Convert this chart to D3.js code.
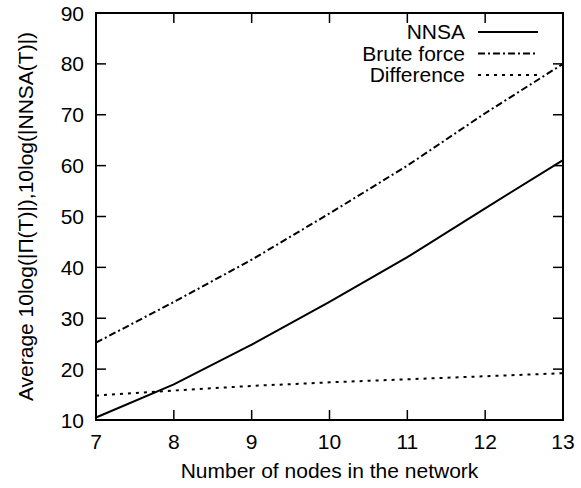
<!DOCTYPE html>
<html>
<head>
<meta charset="utf-8">
<script src="https://cdn.jsdelivr.net/npm/d3@7"></script>
<style>
  html, body { margin: 0; padding: 0; background: #fff; }
  svg text { font-family: "Liberation Sans", Arial, Helvetica, sans-serif; fill: #000; }
</style>
</head>
<body>
<svg id="chart" width="581" height="488"></svg>
<script>
// Network sizes (number of nodes)
const nodes = [7, 8, 9, 10, 11, 12, 13];
// Average 10log(|NNSA(T)|)
const nnsa = [10.5, 17.0, 24.8, 33.2, 42.0, 51.6, 61.1];
// Average 10log(|Π(T)|) from brute force enumeration
const bruteForce = [25.2, 33.2, 41.5, 50.6, 60.0, 70.3, 80.0];
// Gap between the two
const difference = [14.8, 15.8, 16.7, 17.4, 18.0, 18.6, 19.2];

const xTicks = [7, 8, 9, 10, 11, 12, 13];
const yTicks = [10, 20, 30, 40, 50, 60, 70, 80, 90];

const seriesNames = ["NNSA", "Brute force", "Difference"];
const seriesData = [nnsa, bruteForce, difference];
const seriesDash = [null, "7,3,2,3", "3,5"];

const svg = d3.select("#chart");
const plot = { left: 96, right: 563, top: 13, bottom: 420 };
const fontSize = 21;

const x = d3.scaleLinear().domain([7, 13]).range([plot.left, plot.right]);
const y = d3.scaleLinear().domain([10, 90]).range([plot.bottom, plot.top]);

// inward ticks on all four sides
const tickLen = 10;
const axes = svg.append("g").attr("stroke", "#000").attr("stroke-width", 1.5);
xTicks.slice(1, -1).forEach(t => {
  axes.append("line").attr("x1", x(t)).attr("x2", x(t)).attr("y1", plot.bottom).attr("y2", plot.bottom - tickLen);
  axes.append("line").attr("x1", x(t)).attr("x2", x(t)).attr("y1", plot.top).attr("y2", plot.top + tickLen);
});
yTicks.slice(1, -1).forEach(t => {
  axes.append("line").attr("x1", plot.left).attr("x2", plot.left + tickLen).attr("y1", y(t)).attr("y2", y(t));
  axes.append("line").attr("x1", plot.right).attr("x2", plot.right - tickLen).attr("y1", y(t)).attr("y2", y(t));
});

// tick labels
svg.append("g").selectAll("text").data(xTicks).join("text")
  .attr("x", d => x(d)).attr("y", 449)
  .attr("text-anchor", "middle").attr("font-size", fontSize)
  .text(d => d);
svg.append("g").selectAll("text").data(yTicks).join("text")
  .attr("x", 84).attr("y", d => y(d)).attr("dy", "0.36em")
  .attr("text-anchor", "end").attr("font-size", fontSize)
  .text(d => d);

// axis titles
svg.append("text")
  .attr("x", (plot.left + plot.right) / 2).attr("y", 478)
  .attr("text-anchor", "middle").attr("font-size", fontSize)
  .text("Number of nodes in the network");
svg.append("text")
  .attr("transform", `translate(33,${(plot.top + plot.bottom) / 2}) rotate(-90)`)
  .attr("text-anchor", "middle").attr("font-size", fontSize)
  .text("Average 10log(|Π(T)|),10log(|NNSA(T)|)");

// series lines
const line = d3.line().x((d, i) => x(nodes[i])).y(d => y(d));
seriesData.forEach((vals, i) => {
  svg.append("path")
    .attr("d", line(vals))
    .attr("fill", "none").attr("stroke", "#000").attr("stroke-width", 2)
    .attr("stroke-dasharray", seriesDash[i]);
});

// legend
const legendY = [32, 53.5, 75];
seriesNames.forEach((name, i) => {
  svg.append("text")
    .attr("x", 465).attr("y", legendY[i]).attr("dy", "0.35em")
    .attr("text-anchor", "end").attr("font-size", fontSize)
    .text(name);
  svg.append("line")
    .attr("x1", 478).attr("x2", 538).attr("y1", legendY[i]).attr("y2", legendY[i])
    .attr("stroke", "#000").attr("stroke-width", 2)
    .attr("stroke-dasharray", seriesDash[i]);
});

// plot frame
svg.append("rect")
  .attr("x", plot.left).attr("y", plot.top)
  .attr("width", plot.right - plot.left).attr("height", plot.bottom - plot.top)
  .attr("fill", "none").attr("stroke", "#000").attr("stroke-width", 2);
</script>
</body>
</html>
